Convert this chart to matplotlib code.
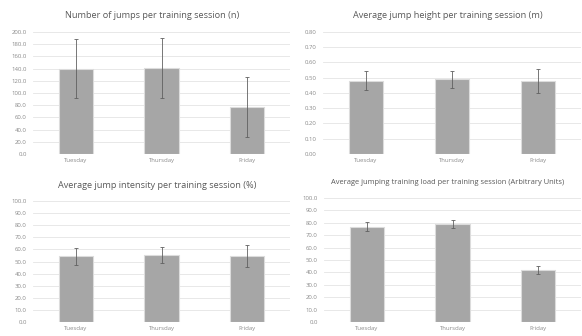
import matplotlib
matplotlib.use("Agg")
import matplotlib.pyplot as plt

days = ["Tuesday", "Thursday", "Friday"]

jumps_mean = [140.0, 141.0, 77.0]
jumps_sd = [48.0, 48.5, 48.5]

height_mean = [0.48, 0.49, 0.48]
height_sd = [0.062, 0.054, 0.079]

intensity_mean = [54.5, 55.5, 54.5]
intensity_sd = [7.0, 6.5, 9.0]

load_mean = [77.0, 79.0, 42.0]
load_sd = [3.4, 3.2, 3.1]

titles = [
    "Number of jumps per training session (n)",
    "Average jump height per training session (m)",
    "Average jump intensity per training session (%)",
    "Average jumping training load per training session (Arbitrary Units)",
]

W, H = 582, 336
fig = plt.figure(figsize=(W / 100, H / 100), dpi=100)
plt.rcParams['font.family'] = ['Open Sans', 'DejaVu Sans']

# (left, top, right, bottom) in pixels
boxes = [
    (33, 32, 290, 154),
    (323, 32, 581, 154),
    (33, 201, 290, 322),
    (324, 198, 581, 322),
]
specs = [
    (jumps_mean, jumps_sd, 200, 20, "{:.1f}", 6.6),
    (height_mean, height_sd, 0.8, 0.1, "{:.2f}", 6.6),
    (intensity_mean, intensity_sd, 100, 10, "{:.1f}", 6.6),
    (load_mean, load_sd, 100, 10, "{:.1f}", 5.4),
]
title_pos = [(152, 16), (448, 16), (157, 185), (448, 183)]

for (l, t, r, b), (m, s, ymax, step, fmt, tfs), title, (tx, ty) in zip(boxes, specs, titles, title_pos):
    ax = fig.add_axes([l / W, 1 - b / H, (r - l) / W, (b - t) / H])
    x = range(len(days))
    ax.bar(x, m, width=0.4, color="#a6a6a6", edgecolor="#dcdcdc", linewidth=0.8, zorder=2)
    ax.errorbar(x, m, yerr=s, fmt="none", ecolor="#606060", elinewidth=0.6,
                capsize=1.5, capthick=0.6, zorder=3)
    ax.set_xlim(-0.5, 2.5)
    ax.set_ylim(0, ymax)
    n = int(round(ymax / step))
    ticks = [i * step for i in range(n + 1)]
    ax.set_yticks(ticks)
    ax.set_yticklabels([fmt.format(v) for v in ticks], fontsize=4.3, color="#8a8a8a")
    ax.set_xticks(list(x))
    ax.set_xticklabels(days, fontsize=4.3, color="#8a8a8a")
    ax.tick_params(axis="y", length=0, pad=4.5)
    ax.tick_params(axis="x", length=0, pad=3)
    ax.grid(axis="y", color="#e4e4e4", linewidth=0.6, zorder=0)
    for sp in ax.spines.values():
        sp.set_visible(False)
    ax.axhline(0, color="#d9d9d9", linewidth=0.7, zorder=1)
    fig.text(tx / W, 1 - ty / H, title, ha="center", va="center",
             fontsize=tfs, color="#595959")

fig.savefig("out.png", dpi=100, facecolor="white")
